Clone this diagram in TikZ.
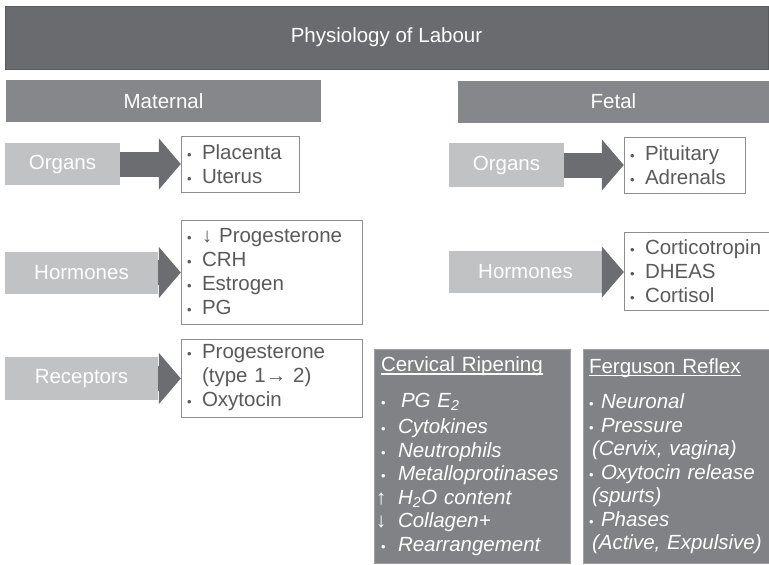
\documentclass[tikz,border=0pt]{standalone}
\usepackage{fontspec}
\setmainfont{Liberation Sans}
\usetikzlibrary{arrows.meta}
\definecolor{titlegray}{HTML}{6A6B6F}
\definecolor{bargray}{HTML}{86878A}
\definecolor{labelgray}{HTML}{C1C2C4}
\definecolor{arrowgray}{HTML}{6C6D70}
\definecolor{boxgray}{HTML}{818285}
\definecolor{listtext}{HTML}{5A5A5C}
\definecolor{listline}{HTML}{8E8E90}
\newcommand{\bul}[1][15pt]{\makebox[#1][l]{\upshape\fontsize{13}{13}\selectfont\textbullet}}
\newcommand{\headline}[1]{\leavevmode\setbox0\hbox{#1}\rlap{\rule[-3pt]{\wd0}{1.2pt}}\box0}
\begin{document}
\begin{tikzpicture}[x=1pt,y=-1pt,font=\fontsize{20.5}{24}\selectfont,
    banner/.style={fill=titlegray,draw=titlegray!85!black,text=white,minimum width=763pt,minimum height=63pt},
    sidebar/.style={fill=bargray,text=white,minimum height=42pt},
    partbox/.style={fill=labelgray,text=white,minimum height=42pt},
    listbox/.style={draw=listline,fill=white,text=listtext,align=left,inner xsep=6pt,inner ysep=0pt},
    pathbox/.style={draw=boxgray!75!white,fill=boxgray,text=white,align=left,inner xsep=7pt,
      minimum height=214pt,font=\fontsize{20.5}{23.5}\selectfont\itshape},
    bigarrow/.style={arrowgray,line width=25pt,-{Triangle[length=22pt,width=50pt]}}]
  \useasboundingbox (0,0) rectangle (769,565);
  \draw
    (386.5,37.5) node[banner] (title){Physiology of Labour}
    (163.5,101) node[sidebar,minimum width=315pt] (mat){Maternal}
    (613.5,101.5) node[sidebar,minimum width=311pt] (fet){Fetal};
  % maternal side
  \draw
    (62.5,164) node[partbox,minimum width=115pt] (morg){Organs}
    (81.5,272.5) node[partbox,minimum width=153pt] (mhor){Hormones}
    (81.5,378.5) node[partbox,minimum width=153pt,minimum height=43pt] (mrec){Receptors}
    (240,164) node[listbox,text width=106pt,minimum height=56pt] (morglist){\bul Placenta\\ \bul Uterus}
    (271.5,272) node[listbox,text width=169pt,minimum height=104pt] (mhorlist){\bul ↓ Progesterone\\ \bul CRH\\ \bul Estrogen\\ \bul PG}
    (271.5,378) node[listbox,text width=169pt,minimum height=78pt] (mreclist){\bul Progesterone\\ \hspace*{15pt}(type 1→ 2)\\ \bul Oxytocin};
  % fetal side
  \draw
    (506.5,165) node[partbox,minimum width=115pt,minimum height=44pt] (forg){Organs}
    (525.5,272) node[partbox,minimum width=153pt] (fhor){Hormones}
    (684.5,165) node[listbox,text width=109pt,minimum height=56pt] (forglist){\bul Pituitary\\ \bul Adrenals}
    (698,271) node[listbox,text width=136pt,minimum height=78pt] (fhorlist){\bul Corticotropin\\ \bul DHEAS\\ \bul Cortisol};
  % bottom boxes
  \draw
    (472,456) node[pathbox,text width=182pt] (ripe){{\upshape\headline{Cervical Ripening}}\\[12pt]
      \bul[20pt]PG E\textsubscript{2}\\[3pt]
      \bul[17pt]Cytokines\\
      \bul[17pt]Neutrophils\\
      \bul[17pt]Metalloprotinases\\
      \hspace*{-5pt}\makebox[22pt][l]{\upshape↑}H\textsubscript{2}O content\\
      \hspace*{-5pt}\makebox[22pt][l]{\upshape↓}Collagen+\\
      \bul[17pt]Rearrangement}
    (678.5,456) node[pathbox,text width=179pt,inner xsep=6pt] (ferg){{\upshape\headline{Ferguson Reflex}}\\[12pt]
      \bul[12pt]Neuronal\\
      \bul[12pt]Pressure\\
      \hspace*{3pt}(Cervix, vagina)\\
      \bul[12pt]Oxytocin release\\
      \hspace*{3pt}(spurts)\\
      \bul[12pt]Phases\\
      \hspace*{3pt}(Active, Expulsive)};
  \begin{scope}[bigarrow]
    \draw (morg.east) -- (morg.east -| morglist.west);
    \draw (mhor.east) -- (mhor.east -| mhorlist.west);
    \draw (mrec.east) -- (mrec.east -| mreclist.west);
    \draw (forg.east) -- (forg.east -| forglist.west);
    \draw (fhor.east) -- (fhor.east -| fhorlist.west);
  \end{scope}
\end{tikzpicture}
\end{document}
